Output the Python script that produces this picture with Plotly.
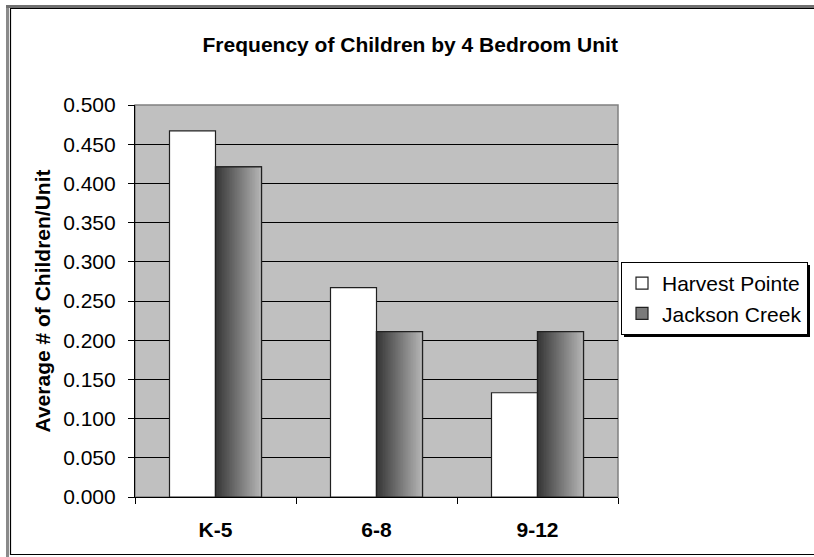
import plotly.graph_objects as go

# Average number of children per 4-bedroom unit, by school grade band
grades = ["K-5", "6-8", "9-12"]
harvest_pointe = [0.467, 0.267, 0.133]
jackson_creek = [0.421, 0.211, 0.211]
y_ticks = [0.0, 0.05, 0.10, 0.15, 0.20, 0.25, 0.30, 0.35, 0.40, 0.45, 0.50]

FONT = "Liberation Sans, Arial, sans-serif"
W, H = 814, 557
L, R, T, B = 135, 196, 105, 60          # margins -> plot area 135..618 x 105..497
PW, PH = W - L - R, H - T - B

BAR_W = 0.2857                          # bar width in category units (150% gap)
N_SLICES = 28                           # vertical strips for the shaded bars

LEG_X, LEG_Y = 621, 262                 # legend box top-left, in pixels
LEG_W, LEG_H = 186, 72                  # legend box size as rendered


def px_x(px):
    return (px - L) / PW


def px_y(py):
    return (H - B - py) / PH


def shade(t):
    # dark grey on the left fading to light grey on the right
    c0, c1 = (55, 55, 55), (180, 180, 180)
    r, g, b = (round(a + (bb - a) * t) for a, bb in zip(c0, c1))
    return f"rgb({r},{g},{b})"


fig = go.Figure()

fig.add_trace(go.Bar(
    name="Harvest Pointe", x=grades, y=harvest_pointe,
    offset=-BAR_W, width=BAR_W,
    marker=dict(color="white", line=dict(color="#202020", width=1.2)),
))

# legend entry / base for the shaded series
fig.add_trace(go.Bar(
    name="Jackson Creek", x=grades, y=jackson_creek,
    offset=0, width=BAR_W,
    marker=dict(color="#7a7a7a", line=dict(color="#202020", width=1.2)),
))

step = BAR_W / N_SLICES
for i in range(N_SLICES):
    w = step * (1.0 if i == N_SLICES - 1 else 1.4)
    fig.add_trace(go.Bar(
        x=grades, y=jackson_creek, offset=i * step, width=w,
        marker=dict(color=shade(i / (N_SLICES - 1)), line=dict(width=0)),
        showlegend=False, hoverinfo="skip",
    ))

# outline on top of the strips
fig.add_trace(go.Bar(
    x=grades, y=jackson_creek, offset=0, width=BAR_W,
    marker=dict(color="rgba(0,0,0,0)", line=dict(color="#202020", width=1.2)),
    showlegend=False, hoverinfo="skip",
))

shapes = [
    # plot-area border (top/right grey)
    dict(type="rect", xref="paper", yref="paper", x0=0, x1=1, y0=0, y1=1,
         line=dict(color="#808080", width=1.5), fillcolor="rgba(0,0,0,0)", layer="below"),
    # chart frame: outer grey edge and inner black edge
    dict(type="line", xref="paper", yref="paper", x0=px_x(7.5), x1=px_x(7.5),
         y0=px_y(5), y1=px_y(560), line=dict(color="#8a8a8a", width=3)),
    dict(type="line", xref="paper", yref="paper", x0=px_x(6), x1=px_x(820),
         y0=px_y(6.5), y1=px_y(6.5), line=dict(color="#707070", width=3)),
    dict(type="rect", xref="paper", yref="paper", x0=px_x(10.5), x1=px_x(830),
         y0=px_y(554.5), y1=px_y(8.5), line=dict(color="black", width=1.2),
         fillcolor="rgba(0,0,0,0)"),
    # drop shadow behind the legend box
    dict(type="rect", xref="paper", yref="paper",
         x0=px_x(LEG_X + 3), x1=px_x(LEG_X + LEG_W + 3),
         y0=px_y(LEG_Y + LEG_H + 3), y1=px_y(LEG_Y + 3),
         line=dict(width=0), fillcolor="black"),
]

fig.update_layout(
    width=W, height=H,
    margin=dict(l=L, r=R, t=T, b=B, pad=0, autoexpand=False),
    paper_bgcolor="white", plot_bgcolor="#C0C0C0",
    barmode="overlay",
    font=dict(family=FONT, color="black", size=21),
    title=dict(text="<b>Frequency of Children by 4 Bedroom Unit</b>",
               x=0.504, xref="container", xanchor="center",
               y=1 - 45 / H, yref="container", yanchor="middle",
               font=dict(family=FONT, size=21, color="black")),
    xaxis=dict(
        type="category", range=[-0.5, 2.5],
        tickson="boundaries", ticks="outside", ticklen=6, tickcolor="black",
        tickfont=dict(family=FONT, size=21, weight="bold"),
        ticklabelstandoff=14,
        showline=True, linecolor="black", linewidth=1.2,
        showgrid=False, zeroline=False, fixedrange=True,
    ),
    yaxis=dict(
        range=[0, 0.5], tickvals=y_ticks, tickformat=".3f",
        ticks="outside", ticklen=6, tickcolor="black",
        tickfont=dict(family=FONT, size=21),
        ticklabelstandoff=8,
        showline=True, linecolor="black", linewidth=1.2,
        showgrid=True, gridcolor="black", gridwidth=1.2,
        zeroline=False,
        title=dict(text="<b>Average # of Children/Unit</b>",
                   font=dict(family=FONT, size=21), standoff=6),
    ),
    legend=dict(
        x=LEG_X / W, xref="container", xanchor="left",
        y=1 - LEG_Y / H, yref="container", yanchor="top",
        bgcolor="white", bordercolor="black", borderwidth=1,
        font=dict(family=FONT, size=21, color="black"),
        itemwidth=30, traceorder="normal",
    ),
    shapes=shapes,
    showlegend=True,
)

fig.write_html("out.html")
